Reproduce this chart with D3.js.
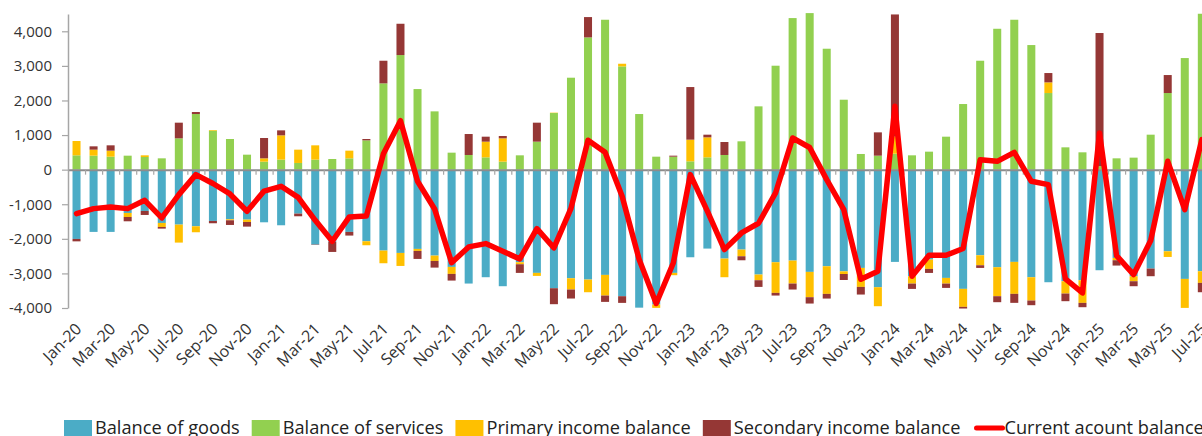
<!DOCTYPE html>
<html><head><meta charset="utf-8">
<script src="https://cdn.jsdelivr.net/npm/d3@7"></script>
<style>body{margin:0;background:#fff}svg{display:block}</style>
</head><body>
<svg id="chart" width="1202" height="436"></svg>
<script>
const months = ["Jan-20","Feb-20","Mar-20","Apr-20","May-20","Jun-20","Jul-20","Aug-20","Sep-20","Oct-20","Nov-20","Dec-20",
"Jan-21","Feb-21","Mar-21","Apr-21","May-21","Jun-21","Jul-21","Aug-21","Sep-21","Oct-21","Nov-21","Dec-21",
"Jan-22","Feb-22","Mar-22","Apr-22","May-22","Jun-22","Jul-22","Aug-22","Sep-22","Oct-22","Nov-22","Dec-22",
"Jan-23","Feb-23","Mar-23","Apr-23","May-23","Jun-23","Jul-23","Aug-23","Sep-23","Oct-23","Nov-23","Dec-23",
"Jan-24","Feb-24","Mar-24","Apr-24","May-24","Jun-24","Jul-24","Aug-24","Sep-24","Oct-24","Nov-24","Dec-24",
"Jan-25","Feb-25","Mar-25","Apr-25","May-25","Jun-25","Jul-25"];

const goods = [-2003,-1800,-1800,-1252,-1194,-1541,-1589,-1637,-1483,-1435,-1445,-1522,
-1608,-1271,-2167,-2090,-1800,-2070,-2340,-2408,-2292,-2485,-2812,-3293,
-3110,-3370,-2677,-2985,-3428,-3139,-3178,-3043,-3659,-3990,-3900,-2985,
-2533,-2282,-2571,-2311,-3033,-2677,-2629,-2956,-2793,-2940,-2841,-3399,
-2667,-3082,-2600,-3130,-3447,-2475,-2821,-2667,-3110,-3255,-3226,-3197,
-2908,-2552,-3082,-2860,-2360,-3159,-2937];

const services = [414,404,375,404,366,327,905,1608,1127,886,433,231,
289,193,289,308,327,847,2494,3313,2330,1685,491,424,
356,231,414,809,1637,2658,3823,4334,2985,1608,375,375,
241,356,424,819,1830,3005,4382,4526,3496,2022,453,404,
462,414,520,953,1897,3149,4073,4334,3602,2215,645,501,
100,327,347,1011,2215,3226,4507];

const primaryIncome = [414,174,174,-116,48,-116,-520,-173,19,-29,-67,96,
703,385,414,0,222,-116,-366,-376,-58,-154,-202,0,
453,674,-58,-87,10,-327,-366,-597,77,0,-96,-67,
626,578,-539,-193,-164,-886,-664,-732,-799,-77,-549,-549,
500,-212,-270,-164,-520,-289,-838,-924,-674,308,-356,-655,
0,-67,-144,0,-164,-838,-337];

const secondaryIncome = [-70,96,154,-125,-116,-48,453,58,-67,-135,-135,588,
144,-77,-10,-289,-106,39,655,905,-231,-193,-193,606,
144,68,-250,549,-462,-260,588,-183,-193,0,0,29,
1521,77,375,-116,-193,-77,-173,-183,-135,-173,-221,674,
3525,-154,-116,-125,-48,-77,-173,-260,-135,270,-221,-125,
3850,-154,-144,-221,520,0,-270];

const currentAccount = [-1270,-1127,-1080,-1127,-886,-1396,-722,-144,-400,-703,-1204,-620,
-481,-800,-1464,-2070,-1367,-1340,462,1416,-337,-1136,-2690,-2234,
-2138,-2360,-2581,-1705,-2263,-1120,850,501,-770,-2600,-3870,-2700,
-144,-1200,-2311,-1830,-1550,-674,915,640,-289,-1155,-3170,-2937,
1830,-3082,-2475,-2475,-2280,289,241,501,-337,-433,-3159,-3563,
1059,-2485,-3033,-2051,241,-1155,867];

const yTickValues = [-4000,-3000,-2000,-1000,0,1000,2000,3000,4000];
const yTickLabels = ["-4,000","-3,000","-2,000","-1,000","0","1,000","2,000","3,000","4,000"];
const seriesKeys = ["goods","services","primary","secondary"];
const seriesNames = ["Balance of goods","Balance of services","Primary income balance","Secondary income balance"];
const lineName = "Current acount balance";
const colors = {goods:"#4BACC6", services:"#92D050", primary:"#FFC000", secondary:"#953735"};

const svg = d3.select("#chart");
const FONT = "'Open Sans', sans-serif";
const left = 68, step = 17.05;
const right = left + months.length * step;

const x = d3.scaleBand().domain(months).range([left, right]).paddingInner(0.53).paddingOuter(0.265);
const y = d3.scaleLinear().domain([-4000, 4500]).range([308, 14]);

const table = months.map((m, i) => ({month: m, goods: goods[i], services: services[i], primary: primaryIncome[i], secondary: secondaryIncome[i]}));
const stacked = d3.stack().keys(seriesKeys).offset(d3.stackOffsetDiverging)(table);

// bars
svg.append("g").selectAll("g").data(stacked).join("g")
  .attr("fill", d => colors[d.key])
  .selectAll("rect").data(d => d).join("rect")
  .attr("x", d => x(d.data.month))
  .attr("width", x.bandwidth())
  .attr("y", d => y(Math.max(d[0], d[1])))
  .attr("height", d => Math.abs(y(d[0]) - y(d[1])));

// zero axis with boundary ticks
const xi = d3.scaleLinear().domain([0, months.length]).range([left, right]);
const zeroAxis = svg.append("g").attr("transform", `translate(0,${y(0)})`)
  .call(d3.axisBottom(xi).tickValues(d3.range(1, months.length)).tickFormat("").tickSize(5).tickSizeOuter(0));
zeroAxis.select(".domain").attr("stroke", "#8C8C8C").attr("stroke-width", 2);
zeroAxis.selectAll(".tick line").attr("stroke", "#A6A6A6").attr("stroke-width", 1.2);

// y axis
const yAxis = svg.append("g").attr("transform", `translate(${left},0)`)
  .call(d3.axisLeft(y).tickValues(yTickValues).tickFormat((d, i) => yTickLabels[i]).tickSize(6).tickSizeOuter(0).tickPadding(10));
yAxis.select(".domain").attr("stroke", "#A6A6A6").attr("stroke-width", 1.5);
yAxis.selectAll(".tick line").attr("stroke", "#A6A6A6").attr("stroke-width", 1.2);
yAxis.selectAll(".tick text").attr("font-family", FONT).attr("font-size", 15).attr("fill", "#333");

// x labels (every other month) at bottom
const labelMonths = months.filter((m, i) => i % 2 === 0);
const xAxis = svg.append("g").attr("transform", `translate(0,312)`)
  .call(d3.axisBottom(x).tickValues(labelMonths).tickSize(0).tickPadding(0));
xAxis.select(".domain").remove();
xAxis.selectAll(".tick text")
  .attr("font-family", FONT).attr("font-size", 16).attr("fill", "#333")
  .attr("text-anchor", "end").attr("dy", "0.35em").attr("y", 0)
  .attr("transform", "translate(2,14) rotate(-45)");

// current account line
const line = d3.line().x((d, i) => x(months[i]) + x.bandwidth() / 2).y(d => y(d));
svg.append("path").datum(currentAccount).attr("d", line)
  .attr("fill", "none").attr("stroke", "#FF0000").attr("stroke-width", 5.5)
  .attr("stroke-linejoin", "round").attr("stroke-linecap", "round");

// legend
const leg = svg.append("g").attr("transform", "translate(0,428)");
let lx = 64;
seriesKeys.forEach((k, i) => {
  leg.append("rect").attr("x", lx).attr("y", -8).attr("width", 28).attr("height", 16).attr("fill", colors[k]);
  const t = leg.append("text").attr("x", lx + 31).attr("y", 0).attr("dy", "0.35em")
    .attr("font-family", FONT).attr("font-size", 18.2).attr("fill", "#222").text(seriesNames[i]);
  lx += 31 + t.node().getComputedTextLength() + 12;
});
leg.append("line").attr("x1", lx + 4).attr("x2", lx + 30).attr("y1", 0).attr("y2", 0)
  .attr("stroke", "#FF0000").attr("stroke-width", 5).attr("stroke-linecap", "round");
leg.append("text").attr("x", lx + 32).attr("y", 0).attr("dy", "0.35em")
  .attr("font-family", FONT).attr("font-size", 18.2).attr("fill", "#222").text(lineName);
</script>
</body></html>
